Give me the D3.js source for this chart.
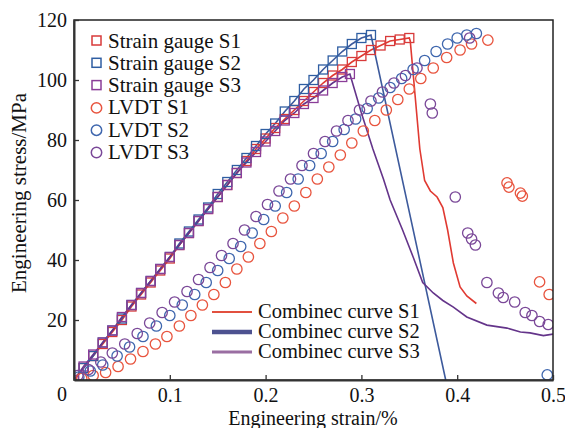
<!DOCTYPE html>
<html lang="en">
<head>
  <meta charset="UTF-8">
  <title>Stress-strain</title>
  <script src="https://cdn.jsdelivr.net/npm/d3@7"></script>
  <style>
    body { margin: 0; background: #fff; }
    text { font-family: "Liberation Serif", "Times New Roman", serif; fill: #111; }
  </style>
</head>
<body>
  <script>
    // strain gauge readings [strain %, stress MPa]
    const sgS1 = [[0,0],[0.01,4],[0.02,8],[0.03,12],[0.04,16],[0.05,20],[0.06,24.5],[0.07,28.5],[0.08,32.5],[0.09,36.5],[0.1,40.5],[0.11,45],[0.12,49],[0.13,53],[0.14,57],[0.15,61],[0.16,65],[0.17,69],[0.18,73],[0.19,77],[0.2,80.5],[0.21,84],[0.22,87],[0.23,90],[0.24,93],[0.25,96],[0.26,99],[0.27,101.5],[0.28,103.5],[0.29,106],[0.30,108],[0.31,110],[0.32,111.5],[0.33,113],[0.34,113.5],[0.35,114]];
    const sgS2 = [[0,0],[0.01,4],[0.02,8],[0.03,12.5],[0.04,16.5],[0.05,20.5],[0.06,25],[0.07,29],[0.08,33],[0.09,37],[0.1,41],[0.11,45.5],[0.12,49.5],[0.13,53.5],[0.14,57.5],[0.15,62],[0.16,66],[0.17,70],[0.18,74],[0.19,78],[0.2,82],[0.21,85.5],[0.22,89.5],[0.23,93],[0.24,97],[0.25,100],[0.26,103.5],[0.27,106.5],[0.28,109.5],[0.29,112],[0.30,114],[0.31,115]];
    const sgS3 = [[0,0],[0.01,4.5],[0.02,8.5],[0.03,12.5],[0.04,16.5],[0.05,21],[0.06,25],[0.07,29],[0.08,33],[0.09,37],[0.1,41],[0.11,45],[0.12,49],[0.13,53],[0.14,57],[0.15,61],[0.16,65],[0.17,69],[0.18,72.5],[0.19,76],[0.2,79.5],[0.21,83],[0.22,86.5],[0.23,89],[0.24,92],[0.25,94],[0.26,96.5],[0.27,99],[0.28,101],[0.288,102]];

    // post-peak part of the combined curves
    const dropS1 = [[0.351,113],[0.356,95],[0.361,77],[0.366,66.5],[0.372,63],[0.379,61],[0.385,57.5],[0.39,50],[0.396,39],[0.403,31],[0.41,28],[0.42,25.5]];
    const dropS2 = [[0.388,0]];
    const dropS3 = [[0.30,89],[0.312,77],[0.323,67],[0.33,60],[0.343,50],[0.354,41],[0.364,32.5],[0.375,29],[0.385,26.5],[0.396,24.3],[0.41,21],[0.431,18.3],[0.452,17.3],[0.466,16],[0.476,15.7],[0.49,14.8],[0.5,15.3]];

    // LVDT readings
    const lvS1 = [[0.008,0.5],[0.02,1.5],[0.033,2.5],[0.046,4.5],[0.059,7],[0.072,9.5],[0.085,12],[0.097,14.5],[0.11,18],[0.122,21.5],[0.134,25],[0.146,28.5],[0.158,32.5],[0.17,37],[0.182,41],[0.194,45.5],[0.206,49.5],[0.218,54],[0.23,58],[0.242,62.5],[0.254,67],[0.266,71],[0.278,75],[0.29,79],[0.302,83],[0.314,86.5],[0.326,90],[0.338,93.5],[0.35,97],[0.362,100.5],[0.375,104],[0.389,107.5],[0.403,110],[0.415,112],[0.432,113.3],[0.452,65.7],[0.454,64.3],[0.466,62.3],[0.468,61.3],[0.486,32.7],[0.496,28.5]];
    const lvS2 = [[0.005,1],[0.017,3],[0.03,5],[0.045,8],[0.058,11],[0.072,14.5],[0.086,18],[0.1,21.5],[0.113,25],[0.126,28.5],[0.138,32.5],[0.15,36.5],[0.162,40.5],[0.174,44.5],[0.186,49],[0.198,53.5],[0.21,58],[0.222,62.5],[0.234,67],[0.246,71.5],[0.258,75.5],[0.27,79.5],[0.282,83.5],[0.294,87],[0.306,90.5],[0.318,94],[0.33,97.5],[0.342,100.5],[0.354,103.5],[0.366,106.5],[0.378,109.5],[0.39,112],[0.4,114],[0.41,115],[0.42,115.5],[0.494,1.7]];
    const lvS3 = [[0.004,1.5],[0.015,3.5],[0.028,6],[0.04,9],[0.053,12],[0.066,15.5],[0.079,19],[0.092,22.5],[0.105,26],[0.118,29.5],[0.13,33.5],[0.142,37.5],[0.154,41.5],[0.166,45.5],[0.178,50],[0.19,54.5],[0.202,58.5],[0.214,63],[0.226,67],[0.238,71.5],[0.25,75.5],[0.262,79.5],[0.274,83],[0.286,86.5],[0.298,90],[0.31,93],[0.322,96],[0.334,99],[0.346,101.5],[0.358,104],[0.413,114],[0.372,92],[0.374,89],[0.398,61],[0.411,49],[0.415,47],[0.419,45],[0.431,32.5],[0.443,29],[0.448,27.5],[0.46,26],[0.471,22.5],[0.478,21.5],[0.486,19.5],[0.495,18.5]];

    const xTicks = [0.1, 0.2, 0.3, 0.4, 0.5];
    const yTicks = [20, 40, 60, 80, 100, 120];
    const markerLegend = ["Strain gauge S1", "Strain gauge S2", "Strain gauge S3", "LVDT S1", "LVDT S2", "LVDT S3"];
    const lineLegend = ["Combinec curve S1", "Combinec curve S2", "Combinec curve S3"];

    const sqColors = ["#d83a3a", "#2f5ea2", "#8a3d98"];
    const ciColors = ["#e8543e", "#3f67ae", "#7a4898"];
    const lnColors = ["#e03a32", "#3d5a9c", "#64348a"];
    const legLn = ["#e2503f", "#4d5290", "#9a6ea2"];
    const legW = [2.2, 4.5, 3.2];

    const W = 565, H = 428;
    const m = {left: 74, right: 12, top: 20, bottom: 48};

    const svg = d3.select("body").append("svg").attr("width", W).attr("height", H);

    const x = d3.scaleLinear().domain([0, 0.5]).range([m.left, W - m.right]);
    const y = d3.scaleLinear().domain([0, 120]).range([H - m.bottom, m.top]);

    svg.append("clipPath").attr("id", "clip")
      .append("rect").attr("x", m.left).attr("y", m.top)
      .attr("width", W - m.left - m.right).attr("height", H - m.top - m.bottom);

    const plot = svg.append("g").attr("clip-path", "url(#clip)");
    const line = d3.line().x(d => x(d[0])).y(d => y(d[1]));

    const combined = [sgS1.concat(dropS1), sgS2.concat(dropS2), sgS3.concat(dropS3)];
    combined.forEach((c, i) => {
      plot.append("path").attr("d", line(c)).attr("fill", "none")
        .attr("stroke", lnColors[i]).attr("stroke-width", 1.6);
    });

    [sgS1, sgS2, sgS3].forEach((s, i) => {
      plot.selectAll(null).data(s).enter().append("rect")
        .attr("x", d => x(d[0]) - 4.5).attr("y", d => y(d[1]) - 4.5)
        .attr("width", 9).attr("height", 9)
        .attr("fill", "none").attr("stroke", sqColors[i]).attr("stroke-width", 1.3);
    });

    [lvS1, lvS2, lvS3].forEach((s, i) => {
      plot.selectAll(null).data(s).enter().append("circle")
        .attr("cx", d => x(d[0])).attr("cy", d => y(d[1])).attr("r", 5.2)
        .attr("fill", "none").attr("stroke", ciColors[i]).attr("stroke-width", 1.3);
    });

    // frame
    svg.append("rect").attr("x", m.left).attr("y", m.top)
      .attr("width", W - m.left - m.right).attr("height", H - m.top - m.bottom)
      .attr("fill", "none").attr("stroke", "#222").attr("stroke-width", 1.5);

    const xAxis = svg.append("g").attr("transform", `translate(0,${H - m.bottom})`)
      .call(d3.axisBottom(x).tickValues(xTicks).tickSizeInner(-5).tickSizeOuter(0).tickPadding(8).tickFormat(d => String(d)));
    const yAxis = svg.append("g").attr("transform", `translate(${m.left},0)`)
      .call(d3.axisLeft(y).tickValues(yTicks).tickSizeInner(-5).tickSizeOuter(0).tickPadding(7));
    [xAxis, yAxis].forEach(a => {
      a.select(".domain").attr("stroke", "#333").attr("stroke-width", 2);
      a.selectAll(".tick line").attr("stroke", "#333").attr("stroke-width", 1.3);
      a.selectAll(".tick text").attr("font-size", 20).attr("fill", "#111")
        .style("font-family", "'Liberation Serif', 'Times New Roman', serif");
    });
    xAxis.selectAll(".tick text").attr("dy", "0.71em");

    svg.append("text").attr("x", 62).attr("y", 401)
      .attr("text-anchor", "middle").attr("font-size", 20).text("0");

    svg.append("text").attr("x", 313).attr("y", 425)
      .attr("text-anchor", "middle").attr("font-size", 20).text("Engineering strain/%");
    svg.append("text").attr("transform", "translate(26,193) rotate(-90)")
      .attr("text-anchor", "middle").attr("font-size", 21).text("Engineering stress/MPa");

    // marker legend
    const lg = svg.append("g");
    markerLegend.forEach((t, i) => {
      const yy = 41 + i * 22.3;
      if (i < 3) {
        lg.append("rect").attr("x", 92).attr("y", yy - 5).attr("width", 9).attr("height", 9)
          .attr("fill", "none").attr("stroke", sqColors[i]).attr("stroke-width", 1.5);
      } else {
        lg.append("circle").attr("cx", 96.5).attr("cy", yy).attr("r", 5.2)
          .attr("fill", "none").attr("stroke", ciColors[i - 3]).attr("stroke-width", 1.5);
      }
      lg.append("text").attr("x", 108).attr("y", yy + 6.5).attr("font-size", 21).text(t);
    });

    // line legend
    lineLegend.forEach((t, i) => {
      const yy = 312 + i * 20;
      lg.append("line").attr("x1", 212).attr("x2", 252).attr("y1", yy).attr("y2", yy)
        .attr("stroke", legLn[i]).attr("stroke-width", legW[i]);
      lg.append("text").attr("x", 258).attr("y", yy + 6).attr("font-size", 20.5).text(t);
    });
  </script>
</body>
</html>
